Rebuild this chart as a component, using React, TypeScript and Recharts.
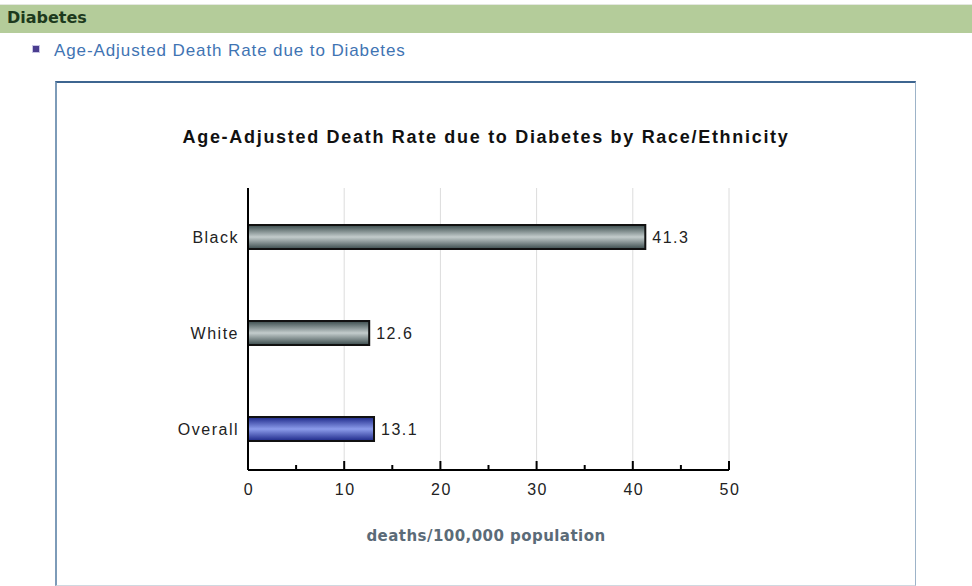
import React from 'react';
import { BarChart, Bar, XAxis, YAxis, CartesianGrid, Cell, LabelList } from 'recharts';

const categories = ['Black', 'White', 'Overall'];
const rates = [41.3, 12.6, 13.1];
const barFills = ['url(#grayBar)', 'url(#grayBar)', 'url(#blueBar)'];
const xTicks = [0, 5, 10, 15, 20, 25, 30, 35, 40, 45, 50];
const gridValues = [10, 20, 30, 40, 50];

const data = categories.map((name, i) => ({ name, rate: rates[i] }));

const font = '"Liberation Sans", Arial, sans-serif';
const wide = { fontSize: 16, fill: '#222', fontFamily: font, letterSpacing: 1.5 };

const XTick = (props: any) => {
  const { x, y, payload } = props;
  const major = payload.value % 10 === 0;
  return (
    <g>
      <line x1={x} x2={x} y1={y} y2={y - (major ? 9 : 5)} stroke="#000" strokeWidth={2} />
      {major && (
        <text x={x + 1} y={y + 25} textAnchor="middle" {...wide}>
          {payload.value}
        </text>
      )}
    </g>
  );
};

const App = () => {
  return (
    <div style={{ position: 'absolute', left: 0, top: 0, width: 972, height: 586, background: '#fff', overflow: 'hidden', fontFamily: font }}>
      <div style={{ position: 'absolute', left: 0, top: 4, width: 972, height: 1, background: '#e4e8e0' }} />
      <div style={{ position: 'absolute', left: 0, top: 5, width: 972, height: 28, background: '#b4cc9a' }} />
      <div style={{ position: 'absolute', left: 7, top: 8, fontFamily: '"DejaVu Sans", sans-serif', fontWeight: 'bold', fontSize: 16, color: '#1d3a1d' }}>
        Diabetes
      </div>
      <div style={{ position: 'absolute', left: 32, top: 45, width: 6, height: 6, background: '#4a3d8f', border: '1px solid #c9c6e4' }} />
      <div style={{ position: 'absolute', left: 54, top: 41, fontSize: 17, letterSpacing: 0.9, color: '#3f74b3' }}>
        Age-Adjusted Death Rate due to Diabetes
      </div>
      <div style={{ position: 'absolute', left: 55, top: 81, width: 858, height: 502, borderTop: '2px solid #3e6590', borderLeft: '2px solid #7d9bb8', borderRight: '1px solid #9db3c8', borderBottom: '1px solid #d0d8e0' }} />
      <div style={{ position: 'absolute', left: 0, top: 127, width: 972, textAlign: 'center', fontSize: 18, letterSpacing: 1.7, fontWeight: 'bold', color: '#111' }}>
        Age-Adjusted Death Rate due to Diabetes by Race/Ethnicity
      </div>
      <div style={{ position: 'absolute', left: 0, top: 527, width: 972, textAlign: 'center', fontFamily: '"DejaVu Sans", sans-serif', fontSize: 15, letterSpacing: 0.45, fontWeight: 'bold', color: '#5b6b78' }}>
        deaths/100,000 population
      </div>
      <div style={{ position: 'absolute', left: 0, top: 0 }}>
        <BarChart
          width={972}
          height={586}
          data={data}
          layout="vertical"
          margin={{ top: 188, right: 243, left: 148, bottom: 86 }}
        >
          <defs>
            <linearGradient id="grayBar" x1="0" y1="0" x2="0" y2="1">
              <stop offset="0%" stopColor="#3a4b4c" />
              <stop offset="50%" stopColor="#c3cccc" />
              <stop offset="100%" stopColor="#3a4b4c" />
            </linearGradient>
            <linearGradient id="blueBar" x1="0" y1="0" x2="0" y2="1">
              <stop offset="0%" stopColor="#1c2788" />
              <stop offset="50%" stopColor="#8c9ceb" />
              <stop offset="100%" stopColor="#1c2788" />
            </linearGradient>
          </defs>
          <CartesianGrid horizontal={false} verticalValues={gridValues} stroke="#dcdcdc" strokeWidth={1} />
          <XAxis
            type="number"
            domain={[0, 50]}
            ticks={xTicks}
            interval={0}
            height={30}
            tickSize={0}
            tickMargin={0}
            tickLine={false}
            axisLine={{ stroke: '#000', strokeWidth: 2 }}
            tick={<XTick />}
          />
          <YAxis
            type="category"
            dataKey="name"
            width={100}
            tickLine={false}
            tickMargin={3}
            padding={{ top: 1, bottom: -7 }}
            axisLine={{ stroke: '#000', strokeWidth: 2 }}
            tick={wide}
          />
          <Bar dataKey="rate" barSize={24} stroke="#111" strokeWidth={2} isAnimationActive={false}>
            {data.map((d, i) => (
              <Cell key={d.name} fill={barFills[i]} />
            ))}
            <LabelList dataKey="rate" position="right" offset={7} {...wide} />
          </Bar>
        </BarChart>
      </div>
    </div>
  );
};

export default App;
